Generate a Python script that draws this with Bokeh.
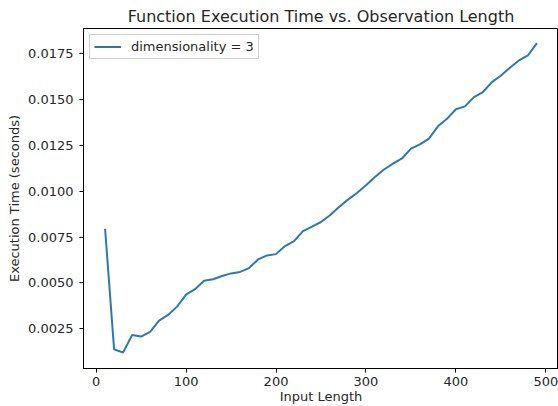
from bokeh.plotting import figure
from bokeh.models import FixedTicker, PrintfTickFormatter, Range1d, Legend, LegendItem
from bokeh.embed import file_html
from bokeh.resources import INLINE

input_length = [10, 20, 30, 40, 50, 60, 70, 80, 90, 100,
                110, 120, 130, 140, 150, 160, 170, 180, 190, 200,
                210, 220, 230, 240, 250, 260, 270, 280, 290, 300,
                310, 320, 330, 340, 350, 360, 370, 380, 390, 400,
                410, 420, 430, 440, 450, 460, 470, 480, 490]
exec_time = [0.00795, 0.00138, 0.00121, 0.00216, 0.00208, 0.00234, 0.00295, 0.00326, 0.00371, 0.00436,
             0.00466, 0.00512, 0.00520, 0.00538, 0.00552, 0.00560, 0.00581, 0.00628, 0.00650, 0.00657,
             0.00701, 0.00728, 0.00782, 0.00807, 0.00832, 0.00869, 0.00914, 0.00954, 0.00990, 0.01032,
             0.01077, 0.01118, 0.01150, 0.01178, 0.01232, 0.01255, 0.01286, 0.01353, 0.01394, 0.01446,
             0.01462, 0.01512, 0.01540, 0.01594, 0.01630, 0.01672, 0.01712, 0.01739, 0.01806]
x_ticks = [0, 100, 200, 300, 400, 500]
y_ticks = [0.0025, 0.0050, 0.0075, 0.0100, 0.0125, 0.0150, 0.0175]

FONT = "DejaVu Sans"
TXT = "#262626"

p = figure(width=558, height=406, output_backend="svg", toolbar_location=None,
           x_range=Range1d(-14, 514), y_range=Range1d(0.00034, 0.01886),
           min_border_left=83, min_border_right=0, min_border_top=28, min_border_bottom=38)

p.title.text = "Function Execution Time vs. Observation Length"
p.title.align = "center"
p.title.text_font = FONT
p.title.text_font_size = "16px"
p.title.text_font_style = "normal"
p.title.text_color = TXT
p.title.offset = 0
p.title.standoff = 5

p.xgrid.visible = False
p.ygrid.visible = False
p.outline_line_color = "black"
p.outline_line_width = 1
p.background_fill_color = "white"
p.border_fill_color = "white"

for ax in (p.xaxis[0], p.yaxis[0]):
    ax.axis_line_color = "black"
    ax.major_tick_line_color = "black"
    ax.major_tick_out = 4
    ax.major_tick_in = 0
    ax.minor_tick_line_color = None
    ax.major_label_text_font = FONT
    ax.major_label_text_font_size = "13px"
    ax.major_label_text_color = TXT
    ax.axis_label_text_font = FONT
    ax.axis_label_text_font_size = "13px"
    ax.axis_label_text_font_style = "normal"
    ax.axis_label_text_color = TXT

p.xaxis.ticker = FixedTicker(ticks=x_ticks)
p.yaxis.ticker = FixedTicker(ticks=y_ticks)
p.yaxis.formatter = PrintfTickFormatter(format="%.4f")
p.xaxis.axis_label = "Input Length"
p.yaxis.axis_label = "Execution Time (seconds)"
p.xaxis.axis_label_standoff = 0
p.yaxis.axis_label_standoff = 3
p.xaxis.major_label_standoff = 4
p.yaxis.major_label_standoff = 6

r = p.line(input_length, exec_time, line_color="#2b78b4", line_width=2)

legend = Legend(items=[LegendItem(label="dimensionality = 3", renderers=[r])],
                location="top_left")
legend.label_text_font = FONT
legend.label_text_font_size = "13px"
legend.label_text_color = TXT
legend.border_line_color = "#cccccc"
legend.border_line_alpha = 1
legend.background_fill_alpha = 0.8
legend.margin = 6
legend.padding = 4
legend.spacing = 0
legend.glyph_width = 27
legend.glyph_height = 15
legend.label_standoff = 10
legend.label_height = 15
p.add_layout(legend)

open("out.html", "w").write(file_html(p, INLINE))
